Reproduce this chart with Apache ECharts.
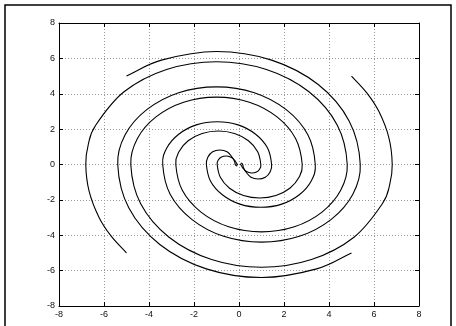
<!DOCTYPE html>
<html><head><meta charset="utf-8">
<script src="https://cdn.jsdelivr.net/npm/echarts@6/dist/echarts.min.js"></script>
<style>html,body{margin:0;padding:0;background:#fff}#c{width:456px;height:326px}</style>
</head><body><div id="c"></div>
<script>
// Axis ticks
const xTicks = [-8,-6,-4,-2,0,2,4,6,8];
const yTicks = [-8,-6,-4,-2,0,2,4,6,8];

// Trajectory starting at (-5, 5)
const armA = [[-5,5],[-3.45,5.90],[-1,6.39],[1.45,5.90],[3.52,4.52],[4.90,2.45],[5.39,0],
 [5.06,-1.68],[4.10,-3.10],[2.68,-4.06],[1,-4.39],[-0.68,-4.06],[-2.10,-3.10],[-3.06,-1.68],[-3.39,0],
 [-3.21,0.93],[-2.68,1.71],[-1.90,2.24],[-0.97,2.42],[-0.04,2.24],[0.74,1.71],[1.27,0.93],[1.45,0],
 [1.38,-0.42],[1.17,-0.72],[0.85,-0.82],[0.53,-0.72],[0.32,-0.44],[0.20,-0.18],[0.16,0.02],[0.08,0.08]];
// Trajectory starting at (5, 5)
const armB = [[5,5],[5.68,4.05],[6.22,2.99],[6.66,1.52],[6.81,0],[6.70,-1.13],[6.37,-2.22],[5.11,-4.11],[3.22,-5.37],[1,-5.81],[-1.22,-5.37],[-3.11,-4.11],[-4.37,-2.22],[-4.81,0],
 [-4.52,1.46],[-3.69,2.69],[-2.46,3.52],[-1,3.81],[0.46,3.52],[1.69,2.69],[2.52,1.46],[2.81,0],
 [2.67,-0.72],[2.26,-1.34],[1.64,-1.75],[0.92,-1.89],[0.20,-1.75],[-0.42,-1.34],[-0.83,-0.72],[-0.97,0],
 [-0.92,0.25],[-0.78,0.42],[-0.55,0.48],[-0.33,0.40],[-0.18,0.22],[-0.10,0.05],[-0.05,-0.04]];
// Trajectory starting at (5, -5)
const armC = [[5,-5],[3.45,-5.90],[1,-6.39],[-1.45,-5.90],[-3.52,-4.52],[-4.90,-2.45],[-5.39,0],
 [-5.06,1.68],[-4.10,3.10],[-2.68,4.06],[-1,4.39],[0.68,4.06],[2.10,3.10],[3.06,1.68],[3.39,0],
 [3.21,-0.93],[2.68,-1.71],[1.90,-2.24],[0.97,-2.42],[0.04,-2.24],[-0.74,-1.71],[-1.27,-0.93],[-1.45,0],
 [-1.38,0.42],[-1.17,0.72],[-0.85,0.82],[-0.53,0.72],[-0.32,0.44],[-0.20,0.18],[-0.16,-0.02],[-0.08,-0.08]];
// Trajectory starting at (-5, -5)
const armD = [[-5,-5],[-5.68,-4.05],[-6.22,-2.99],[-6.66,-1.52],[-6.81,0],[-6.70,1.13],[-6.37,2.22],[-5.11,4.11],[-3.22,5.37],[-1,5.81],[1.22,5.37],[3.11,4.11],[4.37,2.22],[4.81,0],
 [4.52,-1.46],[3.69,-2.69],[2.46,-3.52],[1,-3.81],[-0.46,-3.52],[-1.69,-2.69],[-2.52,-1.46],[-2.81,0],
 [-2.67,0.72],[-2.26,1.34],[-1.64,1.75],[-0.92,1.89],[-0.20,1.75],[0.42,1.34],[0.83,0.72],[0.97,0],
 [0.92,-0.25],[0.78,-0.42],[0.55,-0.48],[0.33,-0.40],[0.18,-0.22],[0.10,-0.05],[0.05,0.04]];

const arms = [armA, armB, armC, armD];
const chart = echarts.init(document.getElementById('c'), null, {renderer:'canvas'});
const font = 'Liberation Sans, Arial, sans-serif';
function ax(pos, labels, ticks){
  return {type:'value', min:-8, max:8, interval:2, position:pos,
    axisLine:{show:true, onZero:false, lineStyle:{color:'#000', width:1}},
    axisTick:{show:true, inside:true, length:4, lineStyle:{color:'#000'}},
    axisLabel:{show:labels, fontSize:9, color:'#111', fontFamily:font, margin:4,
      formatter:function(v){return ticks.indexOf(v)>=0 ? String(v) : '';}},
    splitLine:{show:labels, lineStyle:{color:'#9a9a9a', width:1, type:[1,2]}}};
}
// smooth path (Catmull-Rom) through the pixel positions the axes give for each point
function renderArm(arm){
  return function(params, api){
    const p = arm.map(d => api.coord(d));
    const n = p.length;
    const first = [2*p[0][0]-p[1][0], 2*p[0][1]-p[1][1]];
    const last = [2*p[n-1][0]-p[n-2][0], 2*p[n-1][1]-p[n-2][1]];
    const q = [first].concat(p, [last]);
    let s = 'M' + p[0][0].toFixed(2) + ' ' + p[0][1].toFixed(2);
    for (let i = 1; i < q.length - 2; i++) {
      const p0 = q[i-1], p1 = q[i], p2 = q[i+1], p3 = q[i+2];
      const c1x = p1[0] + (p2[0]-p0[0])/6, c1y = p1[1] + (p2[1]-p0[1])/6;
      const c2x = p2[0] - (p3[0]-p1[0])/6, c2y = p2[1] - (p3[1]-p1[1])/6;
      s += 'C' + c1x.toFixed(2)+' '+c1y.toFixed(2)+' '+c2x.toFixed(2)+' '+c2y.toFixed(2)+' '+p2[0].toFixed(2)+' '+p2[1].toFixed(2);
    }
    return {type:'path', shape:{pathData:s}, style:{fill:null, stroke:'#000', lineWidth:1.1}};
  };
}
chart.setOption({
  animation:false,
  backgroundColor:'#fff',
  grid:{left:59, top:23, width:360, height:283, show:false},
  xAxis:[ax('bottom', true, xTicks), ax('top', false, xTicks)],
  yAxis:[ax('left', true, yTicks), ax('right', false, yTicks)],
  graphic:[{type:'rect', shape:{x:5, y:5, width:446, height:340}, style:{fill:null, stroke:'#000', lineWidth:1.5}, silent:true}],
  series: arms.map(a => ({type:'custom', data:[a[0]], xAxisIndex:0, yAxisIndex:0, renderItem:renderArm(a)}))
});
</script></body></html>
